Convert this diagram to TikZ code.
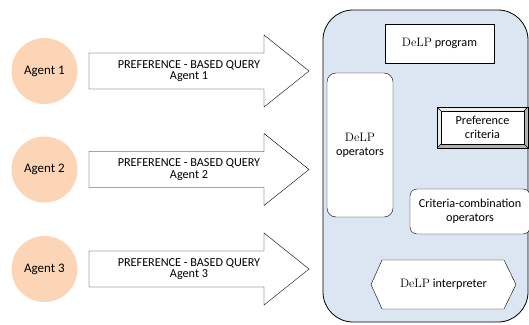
\documentclass[tikz,border=0pt]{standalone}
\usepackage{fontspec}
\setsansfont{Carlito}
\usetikzlibrary{shapes.geometric}
\definecolor{agentfill}{RGB}{251,213,181}
\definecolor{panelfill}{RGB}{220,230,242}
\newcommand{\delp}{\textrm{DeLP}}
\tikzset{
  agent/.style={circle, fill=agentfill, minimum size=66pt, inner sep=0pt, font=\sffamily\fontsize{13}{15}\selectfont},
  querytext/.style={align=center, inner sep=0pt, font=\sffamily\fontsize{12.2}{11.5}\selectfont},
  box/.style={draw, fill=white, align=center, inner sep=0pt, font=\sffamily\fontsize{12.2}{14}\selectfont},
}
\begin{document}
\begin{tikzpicture}[x=1pt, y=-1pt, line join=miter]
		\useasboundingbox (0,0) rectangle (529,324);
		% panel on the right
		\draw[fill=panelfill, rounded corners=30pt, line width=0.8pt] (323,10) rectangle (528,322);
		% agents and their queries
		\foreach \i/\y in {1/71, 2/169.5, 3/269}{
			\node[agent] (agent\i) at (44.5,\y) {Agent \i};
			\coordinate (q\i) at (89,\y);
			\draw[fill=white] (q\i) ++(0,-18) -- ++(175,0) -- ++(0,-18) -- ++(45,36)
				-- ++(-45,36) -- ++(0,-18) -- ++(-175,0) -- cycle;
			\node[querytext] (query\i) at (189,\y) {PREFERENCE - BASED QUERY\\Agent \i};
		}
		% boxes in the panel
		\node[box, minimum width=109pt, minimum height=39pt] (program) at (439.5,43.5) {\delp{} program};
		\node[box, rounded corners=9pt, minimum width=66pt, minimum height=144pt] (operators) at (360,145) {\delp\\operators};
		% preference criteria as a bevelled button
		\coordinate (pa) at (437,107);
		\coordinate (pb) at (528,148);
		\fill[gray!30] (pa) rectangle (pb);
		\fill[gray!15] (437,107) -- (528,107) -- (524,111) -- (441,111) -- (441,144) -- (437,148) -- cycle;
		\fill[gray!60] (437,148) -- (528,148) -- (528,107) -- (524,111) -- (524,144) -- (441,144) -- cycle;
		\draw (pa) rectangle (pb);
		\draw (437,107) -- (441,111) (528,107) -- (524,111) (437,148) -- (441,144) (528,148) -- (524,144);
		\node[box, minimum width=83pt, minimum height=33pt] (criteria) at (482.5,127.5) {Preference\\criteria};
		\node[box, rounded corners=7pt, minimum width=120pt, minimum height=45pt] (combination) at (470,211.5) {Criteria-combination\\operators};
		% interpreter
		\coordinate (interp) at (443.5,284.5);
		\draw[fill=white] (371,284.5) -- (382,260) -- (504,260) -- (516,284.5) -- (504,309) -- (382,309) -- cycle;
		\node[font=\sffamily\fontsize{12.2}{14}\selectfont] (interpreter) at (interp) {\delp{} interpreter};
\end{tikzpicture}
\end{document}
